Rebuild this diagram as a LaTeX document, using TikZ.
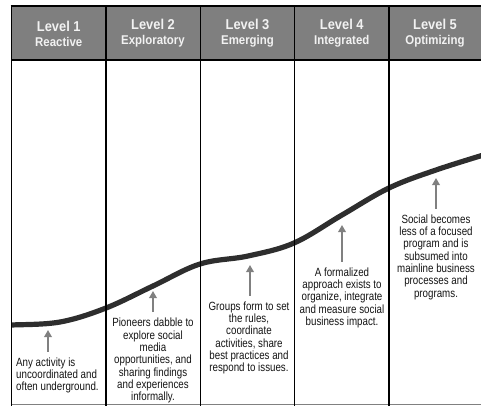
\documentclass[tikz,border=0pt]{standalone}
\usepackage{fontspec}
\setmainfont{Liberation Sans}
\newfontfamily\bodyfont[FakeStretch=0.82]{Liberation Sans}
\newfontfamily\headfont[FakeStretch=0.9]{Liberation Sans}
\usetikzlibrary{arrows.meta}
\definecolor{headgray}{HTML}{7F7F7F}
\definecolor{headtext}{HTML}{F2F2F2}
\definecolor{curvegray}{HTML}{2E2E2E}
\definecolor{arrowgray}{HTML}{808080}
\definecolor{bodytext}{HTML}{141414}
\begin{document}
\begin{tikzpicture}[x=1pt,y=-1pt,
  rule/.style={black,line width=1.8pt},
  headtitle/.style={font=\headfont\bfseries\fontsize{14.3}{16}\selectfont,text=headtext,inner sep=0pt,align=center},
  desc/.style={font=\bodyfont\fontsize{11.9}{12.3}\selectfont,text=bodytext,inner sep=0pt,align=center,anchor=north},
  pointer/.style={arrowgray,line width=2.8pt,shorten <=6pt,-{Triangle[width=7.5pt,length=7pt]}},
  growth/.style={curvegray,line width=5.2pt}]
\useasboundingbox (0,0) rectangle (481,406);
% header band
\fill[headgray] (11.5,6) rectangle (481,60);
% maturity curve, kept inside the frame
\begin{scope}
\clip (11.5,0) rectangle (481,406);
\draw[growth] plot[smooth,tension=0.6] coordinates {
  (0,325.2) (11.5,325) (60,322) (106,308) (153,286) (200,264) (248,256)
  (294,243) (342,215) (389,188) (436,170) (490,153)};
\end{scope}
% grid
\draw[arrowgray,line width=1pt] (11.5,404.5) -- (481,404.5);
\draw[rule] (10.6,6) -- (481,6);
\draw[rule] (11.5,60) -- (481,60);
\foreach \xx in {11.5,106,200.5,294.5,389}
  \draw[rule] (\xx,6) -- (\xx,406);
% column titles
\node[headtitle] (h1) at (58.75,33.5) {Level 1\\[-1pt]{\fontsize{12.7}{14}\selectfont Reactive}};
\node[headtitle] (h2) at (153,33.5) {Level 2\\[-1pt]{\fontsize{12.7}{14}\selectfont Exploratory}};
\node[headtitle] (h3) at (247.5,33.5) {Level 3\\[-1pt]{\fontsize{12.7}{14}\selectfont Emerging}};
\node[headtitle] (h4) at (341.75,33.5) {Level 4\\[-1pt]{\fontsize{12.7}{14}\selectfont Integrated}};
\node[headtitle] (h5) at (435,33.5) {Level 5\\[-1pt]{\fontsize{12.7}{14}\selectfont Optimizing}};
% descriptions
\node[desc,align=left,anchor=north west] (t1) at (16,357.5)
  {Any activity is\\uncoordinated and\\often underground.};
\node[desc] (t2) at (153,318)
  {Pioneers dabble to\\explore social\\media\\opportunities, and\\sharing findings\\and experiences\\informally.};
\node[desc] (t3) at (249,301.5)
  {Groups form to set\\the rules,\\coordinate\\activities, share\\best practices and\\respond to issues.};
\node[desc] (t4) at (342,267.5)
  {A formalized\\approach exists to\\organize, integrate\\and measure social\\business impact.};
\node[desc] (t5) at (436,214.5)
  {Social becomes\\less of a focused\\program and is\\subsumed into\\mainline business\\processes and\\programs.};
% pointers up to the curve
\coordinate (p1) at (48,330);
\coordinate (p2) at (153,291);
\coordinate (p3) at (250,265);
\coordinate (p4) at (342,225);
\coordinate (p5) at (436,178);
\draw[pointer] (t1.north -| p1) -- (p1);
\draw[pointer] (t2.north -| p2) -- (p2);
\draw[pointer] (t3.north -| p3) -- (p3);
\draw[pointer] (t4.north -| p4) -- (p4);
\draw[pointer] (t5.north -| p5) -- (p5);
\end{tikzpicture}
\end{document}
